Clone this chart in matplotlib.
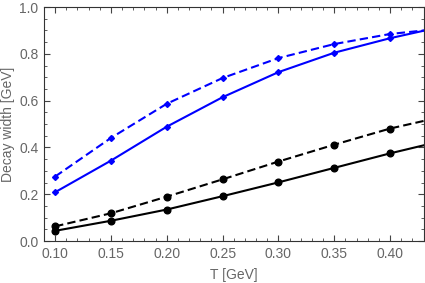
import matplotlib
matplotlib.use('Agg')
import matplotlib.pyplot as plt
from matplotlib.ticker import MultipleLocator

# temperatures with markers; last value only continues the line past the frame
T = [0.10, 0.15, 0.20, 0.25, 0.30, 0.35, 0.40, 0.45]
blue_dashed = [0.276, 0.441, 0.587, 0.697, 0.782, 0.842, 0.885, 0.910]
blue_solid = [0.209, 0.344, 0.489, 0.615, 0.722, 0.805, 0.867, 0.920]
black_dashed = [0.063, 0.119, 0.190, 0.264, 0.340, 0.412, 0.481, 0.535]
black_solid = [0.044, 0.087, 0.135, 0.192, 0.251, 0.313, 0.375, 0.432]

x_label = 'T [GeV]'
y_label = 'Decay width [GeV]'


def main():
    plt.rcParams['font.family'] = ['Liberation Sans', 'DejaVu Sans']
    fig = plt.figure(figsize=(4.25, 2.83), dpi=100)
    ax = fig.add_axes([0.1035, 0.148, 0.8945, 0.827])

    marks = list(range(7))
    ax.plot(T, blue_dashed, color='#0000ff', ls=(0, (4, 2)), lw=1.5,
            marker='D', ms=3, markevery=marks)
    ax.plot(T, blue_solid, color='#0000ff', ls='-', lw=1.5,
            marker='D', ms=3, markevery=marks)
    ax.plot(T, black_dashed, color='black', ls=(0, (4, 2)), lw=1.5,
            marker='o', ms=4.8, markevery=marks)
    ax.plot(T, black_solid, color='black', ls='-', lw=1.5,
            marker='o', ms=4.8, markevery=marks)

    ax.set_xlim(0.09, 0.4305)
    ax.set_ylim(0.0, 1.0)
    ax.xaxis.set_major_locator(MultipleLocator(0.05))
    ax.xaxis.set_minor_locator(MultipleLocator(0.01))
    ax.yaxis.set_major_locator(MultipleLocator(0.2))
    ax.yaxis.set_minor_locator(MultipleLocator(0.05))
    ax.xaxis.set_major_formatter(plt.FormatStrFormatter('%.2f'))
    ax.yaxis.set_major_formatter(plt.FormatStrFormatter('%.1f'))

    gray = '#666666'
    ax.tick_params(which='both', direction='in', top=True, right=True,
                   colors='#444444', labelcolor=gray, labelsize=10)
    ax.tick_params(which='major', length=4, width=0.8, pad=4)
    ax.tick_params(which='minor', length=2, width=0.6)
    for s in ax.spines.values():
        s.set_color('#333333')
        s.set_linewidth(0.8)

    ax.set_xlabel(x_label, color=gray, fontsize=10, labelpad=5)
    ax.set_ylabel(y_label, color=gray, fontsize=10, labelpad=3)

    fig.savefig('out.png', dpi=100)
    plt.close(fig)


if __name__ == '__main__':
    main()
